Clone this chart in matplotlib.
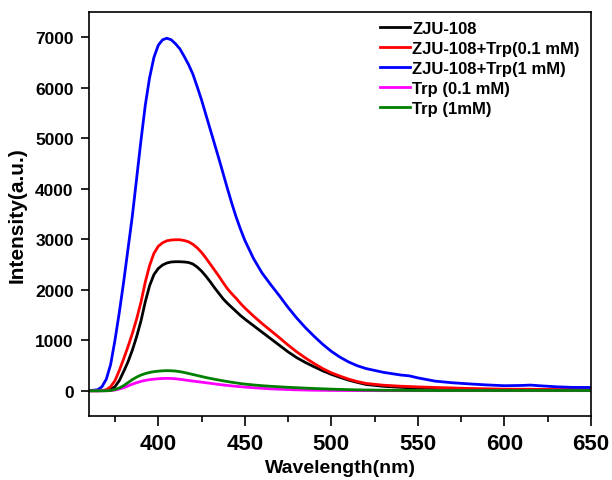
import numpy as np
import matplotlib
matplotlib.use("Agg")
import matplotlib.pyplot as plt
from matplotlib.ticker import MultipleLocator

# ==========================================
# DATA
# ==========================================

wavelength = [360, 365, 367.5, 370, 372.5, 375, 377.5, 380, 382.5, 385,
              387.5, 390, 392.5, 395, 397.5, 400, 402.5, 405, 407.5, 410,
              412.5, 415, 417.5, 420, 422.5, 425, 427.5, 430, 432.5, 435,
              437.5, 440, 442.5, 445, 447.5, 450, 455, 460, 465, 470,
              475, 480, 485, 490, 495, 500, 505, 510, 515, 520,
              530, 540, 545, 550, 560, 570, 580, 590, 600, 610,
              615, 620, 630, 640, 650]

zju108 = [0, 0, 0, 5, 30, 80, 200, 380, 570, 800,
          1070, 1380, 1760, 2080, 2300, 2420, 2490, 2530, 2550, 2555,
          2555, 2550, 2540, 2510, 2450, 2370, 2270, 2160, 2040, 1930,
          1820, 1730, 1650, 1570, 1490, 1420, 1290, 1160, 1030, 900,
          770, 655, 560, 475, 395, 325, 265, 210, 165, 125,
          88, 68, 60, 55, 45, 35, 28, 20, 15, 12,
          12, 10, 10, 8, 8]

zju108_trp01 = [0, 0, 5, 20, 80, 200, 400, 630, 870, 1130,
                1420, 1750, 2150, 2480, 2720, 2860, 2930, 2970, 2985, 2990,
                2990, 2975, 2950, 2900, 2830, 2740, 2630, 2510, 2390, 2270,
                2140, 2020, 1920, 1830, 1730, 1640, 1480, 1330, 1190, 1050,
                905, 770, 650, 540, 440, 355, 290, 230, 182, 145,
                110, 90, 84, 76, 65, 55, 45, 38, 32, 30,
                30, 28, 25, 25, 22]

zju108_trp1 = [0, 20, 80, 230, 520, 1000, 1550, 2150, 2800, 3450,
               4200, 4950, 5650, 6200, 6600, 6840, 6950, 6980, 6950, 6870,
               6770, 6620, 6460, 6270, 6020, 5760, 5470, 5180, 4890, 4600,
               4300, 4000, 3710, 3440, 3200, 2980, 2620, 2330, 2100, 1880,
               1650, 1440, 1250, 1080, 920, 780, 665, 570, 495, 440,
               365, 312, 295, 255, 190, 158, 135, 115, 100, 105,
               112, 100, 78, 66, 65]

trp01 = [0, 0, 0, 0, 3, 15, 35, 60, 95, 130,
         160, 185, 205, 220, 230, 238, 243, 245, 243, 237,
         227, 215, 203, 192, 181, 170, 159, 148, 136, 125,
         115, 105, 96, 88, 80, 72, 60, 48, 38, 30,
         24, 18, 14, 10, 8, 6, 5, 4, 3, 3,
         2, 2, 2, 2, 2, 2, 2, 2, 2, 2,
         2, 2, 2, 2, 2]

trp1 = [0, 0, 0, 0, 5, 25, 55, 100, 160, 220,
        270, 310, 340, 362, 378, 388, 395, 398, 396, 390,
        378, 362, 342, 322, 302, 282, 262, 245, 228, 212,
        196, 182, 168, 155, 142, 132, 115, 100, 88, 78,
        68, 60, 52, 45, 38, 32, 27, 22, 18, 15,
        10, 8, 7, 6, 5, 5, 5, 5, 5, 5,
        5, 5, 5, 5, 5]

labels = ["ZJU-108", "ZJU-108+Trp(0.1 mM)", "ZJU-108+Trp(1 mM)",
          "Trp (0.1 mM)", "Trp (1mM)"]
colors = ["#000000", "#ff0000", "#0000ff", "#ff00ff", "#008000"]

# ==========================================
# PLOT
# ==========================================

plt.rcParams["font.family"] = ["Liberation Sans", "DejaVu Sans"]
plt.rcParams["font.weight"] = "bold"

fig = plt.figure(figsize=(6.12, 4.81), dpi=100)
ax = fig.add_axes([89/612, 1 - 417/481, (591 - 89)/612, (417 - 13)/481])

series = [zju108, zju108_trp01, zju108_trp1, trp01, trp1]
for values, label, color in zip(series, labels, colors):
    ax.plot(wavelength, values, color=color, lw=2.0, label=label,
            solid_joinstyle="round")

ax.set_xlim(360, 650)
ax.set_ylim(-500, 7500)

ax.xaxis.set_minor_locator(MultipleLocator(25))
ax.yaxis.set_major_locator(MultipleLocator(1000))
ax.set_xticks([400, 450, 500, 550, 600, 650])

ax.tick_params(axis="x", which="major", direction="out", length=7, width=1.2,
               labelsize=16, pad=5)
ax.tick_params(axis="x", which="minor", direction="out", length=4, width=1.2)
ax.tick_params(axis="y", which="major", direction="out", length=6, width=1.2,
               labelsize=12.5, pad=5)

for spine in ax.spines.values():
    spine.set_linewidth(1.2)

ax.set_xlabel("Wavelength(nm)", fontsize=14, fontweight="bold", labelpad=4)
ax.set_ylabel("Intensity(a.u.)", fontsize=15, fontweight="bold", labelpad=6)

ax.legend(loc="upper left", bbox_to_anchor=(380/612, 1 - 22/481),
          bbox_transform=fig.transFigure, frameon=False, fontsize=12,
          handlelength=1.8, handletextpad=0.15, labelspacing=0.3,
          borderpad=0, borderaxespad=0)

plt.savefig("out.png", dpi=100)
plt.close()
